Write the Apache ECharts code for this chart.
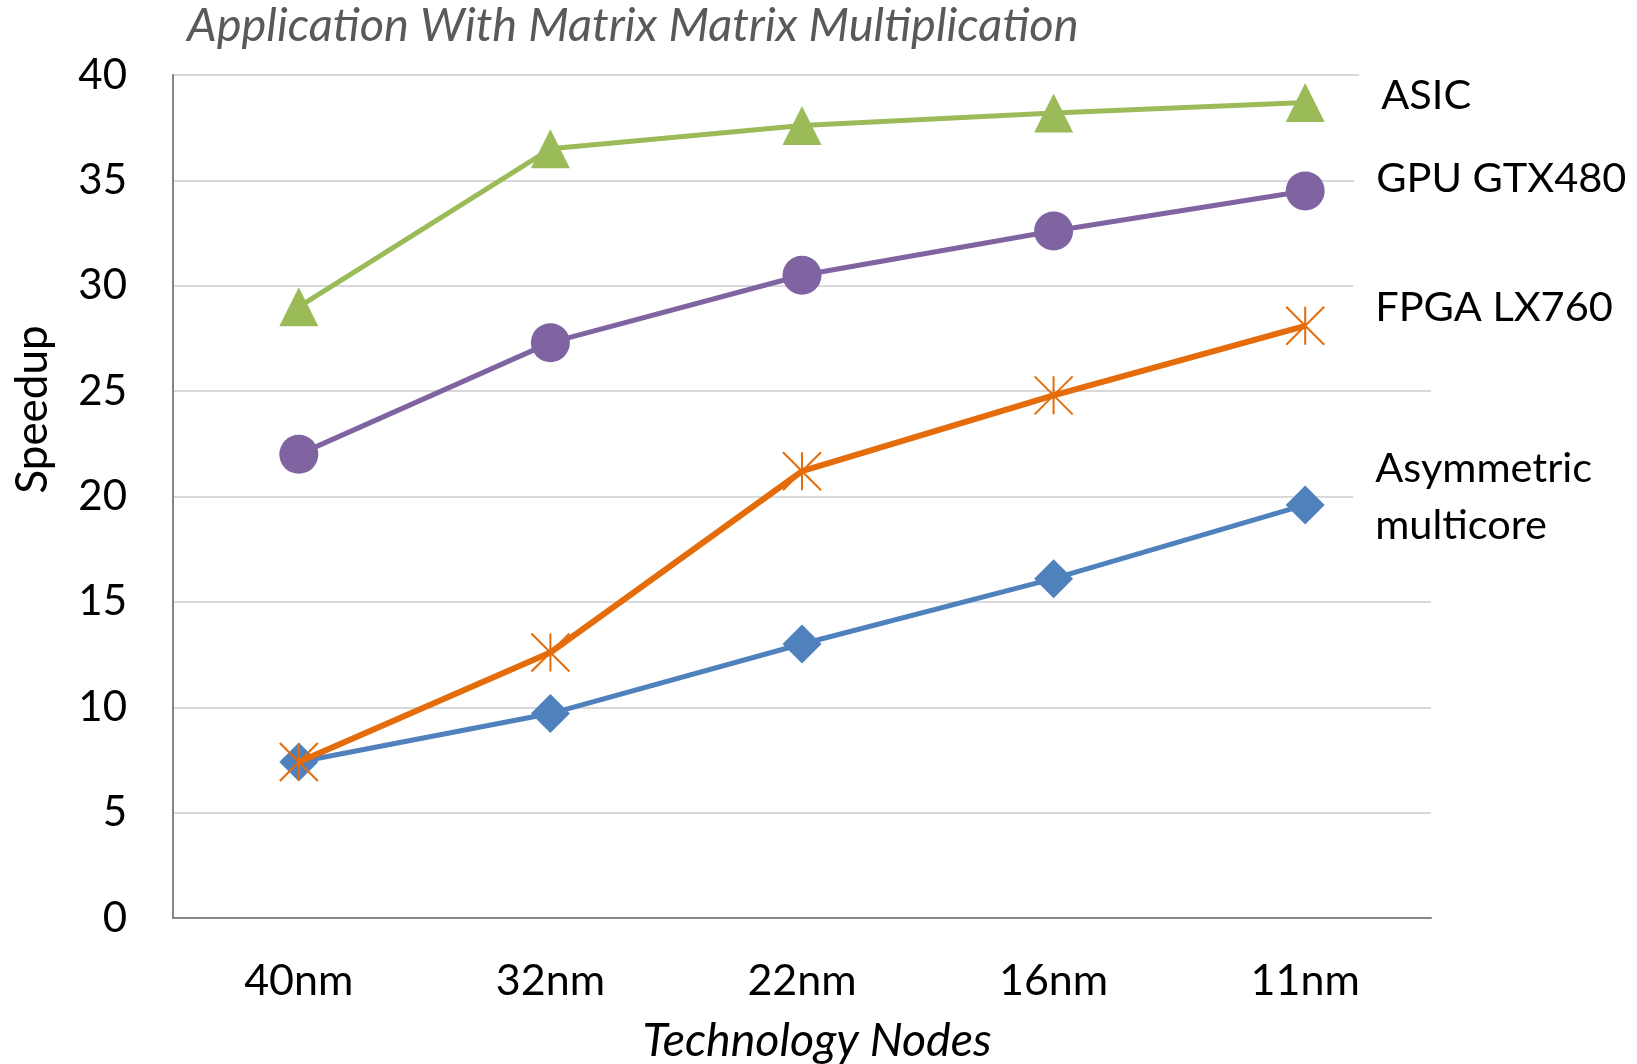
<!DOCTYPE html>
<html>
<head>
<meta charset="utf-8">
<script src="https://cdn.jsdelivr.net/npm/echarts@6/dist/echarts.min.js"></script>
<style>
  html, body { margin: 0; padding: 0; background: #fff; }
  #chart { width: 1637px; height: 1064px; }
</style>
</head>
<body>
<div id="chart"></div>
<script>
// Technology nodes on the x axis
var categories = ['40nm', '32nm', '22nm', '16nm', '11nm'];

// Speedup per platform at each node
var asicValues = [29.0, 36.5, 37.6, 38.2, 38.7];
var gpuValues = [22.0, 27.3, 30.5, 32.6, 34.5];
var fpgaValues = [7.4, 12.6, 21.2, 24.8, 28.1];
var asymValues = [7.4, 9.7, 13.0, 16.1, 19.6];

var seriesNames = ['Asymmetric\nmulticore', 'FPGA LX760', 'GPU GTX480', 'ASIC'];

var FONT = 'Lato';
var chart = echarts.init(document.getElementById('chart'), null, { renderer: 'canvas' });

// Series name printed to the right of the last point, on a white box
function endLabel(dx, dy) {
  return {
    show: true,
    formatter: '{a}',
    color: '#000',
    fontFamily: FONT,
    fontSize: 41.5,
    lineHeight: 57,
    distance: 48,
    offset: [dx, dy],
    backgroundColor: '#fff',
    padding: [10, 10, 10, 22]
  };
}

var asterisk = 'path://M0,0L38,38M38,0L0,38M19,0L19,38';

chart.setOption({
  animation: false,
  backgroundColor: '#fff',
  title: {
    text: 'Application With Matrix Matrix Multiplication',
    left: 187,
    top: 0,
    padding: 0,
    textStyle: {
      fontFamily: FONT,
      fontStyle: 'italic',
      fontWeight: 'normal',
      fontSize: 47,
      lineHeight: 52,
      color: '#595959'
    }
  },
  grid: { left: 173, right: 206, top: 75, bottom: 146, containLabel: false, outerBoundsMode: 'none' },
  xAxis: {
    type: 'category',
    data: categories,
    boundaryGap: true,
    name: 'Technology Nodes',
    nameLocation: 'middle',
    nameGap: 100,
    nameTextStyle: {
      fontFamily: FONT,
      fontStyle: 'italic',
      fontSize: 46.5,
      lineHeight: 46,
      color: '#000',
      padding: [0, 0, 0, 30]
    },
    axisLine: { lineStyle: { color: '#868686', width: 2 } },
    axisTick: { show: false },
    axisLabel: {
      fontFamily: FONT,
      fontSize: 43,
      lineHeight: 42,
      color: '#000',
      margin: 42
    },
    splitLine: { show: false }
  },
  yAxis: {
    type: 'value',
    min: 0,
    max: 40,
    interval: 5,
    name: 'Speedup',
    nameLocation: 'middle',
    nameGap: 118,
    nameTextStyle: {
      fontFamily: FONT,
      fontSize: 44,
      lineHeight: 44,
      color: '#000',
      padding: [0, 0, 0, 174]
    },
    axisLine: { show: true, lineStyle: { color: '#868686', width: 2 } },
    axisTick: { show: false },
    axisLabel: {
      fontFamily: FONT,
      fontSize: 42,
      color: '#000',
      margin: 46
    },
    splitLine: { lineStyle: { color: '#D9D9D9', width: 2 } }
  },
  series: [
    {
      name: seriesNames[0],
      type: 'line',
      data: asymValues,
      symbol: 'diamond',
      symbolSize: 39,
      lineStyle: { color: '#4F81BD', width: 5 },
      itemStyle: { color: '#4F81BD', borderWidth: 0 },
      endLabel: endLabel(0, -8),
      emphasis: { disabled: true },
      z: 2
    },
    {
      name: seriesNames[1],
      type: 'line',
      data: fpgaValues,
      symbol: asterisk,
      symbolSize: 38,
      lineStyle: { color: '#E46C0A', width: 6 },
      itemStyle: { color: '#E46C0A', borderColor: '#E46C0A', borderWidth: 2 },
      endLabel: endLabel(0, -18),
      emphasis: { disabled: true },
      z: 3
    },
    {
      name: seriesNames[2],
      type: 'line',
      data: gpuValues,
      symbol: 'circle',
      symbolSize: 39,
      lineStyle: { color: '#8064A2', width: 5 },
      itemStyle: { color: '#8064A2', borderWidth: 0 },
      endLabel: endLabel(1, -12),
      emphasis: { disabled: true },
      z: 4
    },
    {
      name: seriesNames[3],
      type: 'line',
      data: asicValues,
      symbol: 'triangle',
      symbolSize: 39,
      lineStyle: { color: '#9BBB59', width: 5 },
      itemStyle: { color: '#9BBB59', borderWidth: 0 },
      endLabel: endLabel(6, -7),
      emphasis: { disabled: true },
      z: 5
    }
  ]
});
</script>
</body>
</html>
